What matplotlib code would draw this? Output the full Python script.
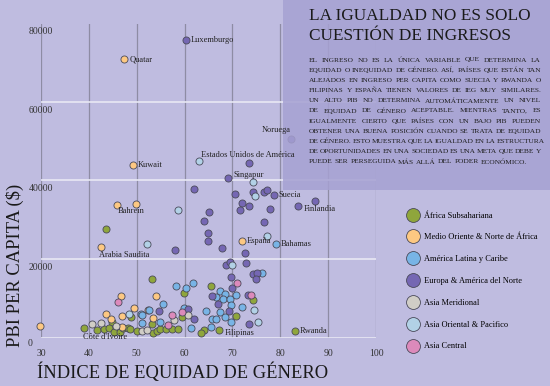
import matplotlib
matplotlib.use('Agg')
import matplotlib.pyplot as plt
from matplotlib.lines import Line2D
from matplotlib.patches import Rectangle

plt.rcParams['font.family'] = ['Liberation Serif', 'DejaVu Serif']

# datos: indice de equidad de genero (IEG) y PBI per capita por region
africa_gei = [39.0, 67.1, 83.0, 43.5, 53.2, 65.5, 59.8, 74.4, 70.7, 48.8, 59.4, 44.9, 53.2,
              41.6, 43.2, 44.2, 45.3, 46.5, 47.1, 48.1, 48.5, 50.0, 53.3, 54.2, 54.9, 56.1,
              57.3, 58.7, 64.0, 63.5]
africa_gdp = [2340, 1910, 1730, 27650, 14900, 13120, 11260, 9560, 5560, 5300, 5150, 4030, 3440,
              1910, 2170, 2500, 1480, 1480, 2500, 2340, 2090, 1730, 1070, 1660, 2090, 2090,
              2090, 2090, 1910, 1070]

medio_gei = [47.4, 49.2, 49.8, 42.6, 71.9, 29.8, 45.8, 46.7, 54.1, 49.5, 52.4, 43.6, 44.6,
             47.0, 53.5, 47.0]
medio_gdp = [70880, 43870, 33940, 22980, 24670, 3000, 33840, 10570, 10650, 7590, 7090, 5910,
             4630, 5480, 5050, 2750]

latina_gei = [79.0, 76.2, 58.2, 60.3, 61.7, 55.5, 59.8, 52.6, 50.9, 54.9, 51.2, 61.3, 65.5,
              67.4, 68.5, 66.6, 68.1, 69.5, 70.8, 72.0, 67.3, 68.5, 65.7, 69.7, 51.1, 64.5,
              69.8, 66.6]
latina_gdp = [23750, 16510, 13120, 12690, 13810, 8610, 7590, 7010, 5910, 4030, 3620, 2340, 2750,
              11920, 11000, 10400, 9730, 9730, 10750, 7690, 6570, 5300, 4710, 3870, 5730, 6670,
              8280, 4710]

europa_gei = [60.3, 82.3, 69.1, 78.6, 83.8, 73.4, 61.9, 70.6, 74.3, 76.7, 77.3, 71.9, 73.4,
              71.6, 77.8, 87.2, 76.5, 67.8, 72.7, 57.9, 65.0, 64.1, 64.9, 64.8, 68.6, 69.4,
              72.8, 69.7, 74.2, 75.1, 75.0, 70.0, 73.2, 65.7, 66.9, 69.3, 73.5, 54.7, 60.8, 62.0]
europa_gdp = [75800, 50580, 40560, 36230, 33580, 44540, 37760, 36490, 37150, 37000, 37580, 34190,
              33580, 32490, 32820, 34860, 29350, 22730, 21610, 22220, 31980, 29680, 26550, 24670,
              18400, 19240, 19060, 15490, 16100, 16360, 14830, 12610, 10900, 10570, 8540, 6830,
              3440, 6670, 7260, 4630]

meridional_gei = [40.6, 42.6, 45.6, 51.1, 52.1, 57.7, 60.8]
meridional_gdp = [3440, 3620, 2930, 1730, 1910, 4460, 5730]

oriental_gei = [63.1, 74.4, 74.8, 58.7, 52.2, 77.2, 69.9, 75.3, 48.3, 74.6]
oriental_gdp = [45050, 39540, 36050, 32490, 23750, 25940, 18470, 4030, 5990, 7010]

central_gei = [46.0, 57.3, 59.4, 56.6, 70.9, 73.9]
central_gdp = [9050, 5730, 6570, 3190, 13810, 10750]

region_names = ['África Subsahariana', 'Medio Oriente & Norte de África', 'América Latina y Caribe',
                'Europa & América del Norte', 'Asia Meridional', 'Asia Oriental & Pacifico',
                'Asia Central']
region_colors = ['#8fa63c', '#fdc882', '#78b4e6', '#7567b3', '#d0cdc6', '#b2d1e6', '#dc8abb']
region_x = [africa_gei, medio_gei, latina_gei, europa_gei, meridional_gei, oriental_gei, central_gei]
region_y = [africa_gdp, medio_gdp, latina_gdp, europa_gdp, meridional_gdp, oriental_gdp, central_gdp]

# etiquetas: (texto, region, indice, desplazamiento en pt, ha)
labels = [
    ('Luxemburgo', 3, 0, (3.5, 0), 'left'),
    ('Noruega', 3, 1, (-0.7, 6.5), 'right'),
    ('Singapur', 3, 2, (3.6, 2.4), 'left'),
    ('Suecia', 3, 3, (3.5, 0), 'left'),
    ('Finlandia', 3, 4, (3.6, -2.5), 'left'),
    ('Quatar', 1, 0, (3.5, 0), 'left'),
    ('Kuwait', 1, 1, (3.5, 0), 'left'),
    ('Bahrein', 1, 2, (-3.5, -5), 'center'),
    ('Arabia Saudita', 1, 3, (-1.5, -5.8), 'left'),
    ('España', 1, 4, (3.5, 0), 'left'),
    ('Yemen', 1, 5, (3.6, 0), 'left'),
    ('Bahamas', 2, 0, (3.5, 0), 'left'),
    ('Estados Unidos de América', 5, 0, (1.5, 4.3), 'left'),
    ("Côte d'Ivoire", 0, 0, (-1, -6), 'left'),
    ('Filipinas', 0, 1, (4.3, -2.2), 'left'),
    ('Rwanda', 0, 2, (3.6, 0), 'left'),
]

x_ticks = [30, 40, 50, 60, 70, 80, 90, 100]
y_ticks = [0, 20000, 40000, 60000, 80000]

body = [
    'EL INGRESO NO ES LA ÚNICA VARIABLE QUE DETERMINA LA',
    'EQUIDAD O INEQUIDAD DE GÉNERO. ASÍ, PAÍSES QUE ESTÁN TAN',
    'ALEJADOS EN INGRESO PER CAPITA COMO SUECIA Y RWANDA O',
    'FILIPINAS Y ESPAÑA TIENEN VALORES DE IEG MUY SIMILARES.',
    'UN ALTO PIB NO DETERMINA AUTOMÁTICAMENTE UN NIVEL',
    'DE EQUIDAD DE GÉNERO ACEPTABLE. MIENTRAS TANTO, ES',
    'IGUALMENTE CIERTO QUE PAÍSES CON UN BAJO PIB PUEDEN',
    'OBTENER UNA BUENA POSICIÓN CUANDO SE TRATA DE EQUIDAD',
    'DE GÉNERO. ESTO MUESTRA QUE LA IGUALDAD EN LA ESTRUCTURA',
    'DE OPORTUNIDADES EN UNA SOCIEDAD ES UNA META QUE DEBE Y',
    'PUEDE SER PERSEGUIDA MÁS ALLÁ DEL PODER ECONÓMICO.',
]

bg = '#bfbce0'
W, H = 550, 386
fig = plt.figure(figsize=(5.5, 3.86), dpi=100, facecolor=bg)
ax = fig.add_axes([41/W, 1-337.5/H, 335/W, 314/H])
ax.set_facecolor('none')
ax.set_xlim(30, 100)
ax.set_ylim(0, 80000)
for s in ax.spines.values():
    s.set_visible(False)

ax.set_xticks(x_ticks)
ax.set_xticklabels([str(t) for t in x_ticks], fontsize=7, color='#333333')
ax.set_yticks(y_ticks)
ax.set_yticklabels([])
ax.tick_params(length=0)
ax.tick_params(axis='x', pad=8)
ax.xaxis.grid(True, color='#8e8ca4', lw=0.9)
ax.yaxis.grid(True, color='#e8e8f4', lw=1.2)
ax.set_axisbelow(True)

for t in y_ticks:
    if t == 0:
        ax.annotate('0', (30, 0), xytext=(-8, -4.5), textcoords='offset points',
                    ha='center', va='center', fontsize=7, color='#333333', annotation_clip=False)
    else:
        ax.annotate(str(t), (30, t), xytext=(0, -6), textcoords='offset points',
                    ha='center', va='center', fontsize=7, color='#333333', annotation_clip=False)

for xs, ys, c in zip(region_x, region_y, region_colors):
    ax.scatter(xs, ys, s=26, color=c, edgecolor='#4a4a5a', linewidth=0.6, zorder=3, clip_on=False)

# caja del titulo: sobre los puntos, debajo de las etiquetas
ax.add_patch(Rectangle((283/W, 1-190/H), 1-283/W, 190/H, transform=fig.transFigure,
                       facecolor='#a6a1d2', alpha=0.85, edgecolor='none', zorder=3.5,
                       clip_on=False))

for txt, r, i, off, ha in labels:
    ax.annotate(txt, (region_x[r][i], region_y[r][i]), xytext=off, textcoords='offset points',
                ha=ha, va='center', fontsize=6, color='#222222', zorder=4)

fig.text(37/W, 1-372/H, 'ÍNDICE DE EQUIDAD DE GÉNERO', fontsize=13.3, ha='left', va='center',
         color='#1a1a1a')
fig.text(15/W, 1-265/H, 'PBI PER CAPITA ($)', fontsize=13.3, rotation=90, ha='center', va='center',
         color='#1a1a1a')

fig.text(309/W, 1-16/H, 'LA IGUALDAD NO ES SOLO', fontsize=12.4, ha='left', va='center',
         color='#1a1a1a', zorder=6)
fig.text(309/W, 1-36/H, 'CUESTIÓN DE INGRESOS', fontsize=12.4, ha='left', va='center',
         color='#1a1a1a', zorder=6)

# texto justificado palabra por palabra
fig.canvas.draw()
renderer = fig.canvas.get_renderer()
x0, x1 = 309, 541
for n, line in enumerate(body):
    y = 1 - (60 + n*10.2)/H
    words = line.split()
    ts = [fig.text(0, y, w, fontsize=5.3, ha='left', va='center', color='#1e1e1e', zorder=6)
          for w in words]
    widths = [t.get_window_extent(renderer).width for t in ts]
    if n == len(body) - 1:
        gap = 2.0
    else:
        gap = max((x1 - x0 - sum(widths))/(len(words) - 1), 1.0)
    pos = x0
    for t, w in zip(ts, widths):
        t.set_x(pos/W)
        pos += w + gap

handles = [Line2D([], [], ls='none', marker='o', markersize=10, markerfacecolor=c,
                  markeredgecolor='#4a4a5a', markeredgewidth=0.6) for c in region_colors]
fig.legend(handles, region_names, loc='upper left', bbox_to_anchor=(400/W, 1-204/H),
           frameon=False, fontsize=6, labelspacing=1.66, handlelength=1.2, handletextpad=0.8)

fig.savefig('out.png', dpi=100, facecolor=bg)
